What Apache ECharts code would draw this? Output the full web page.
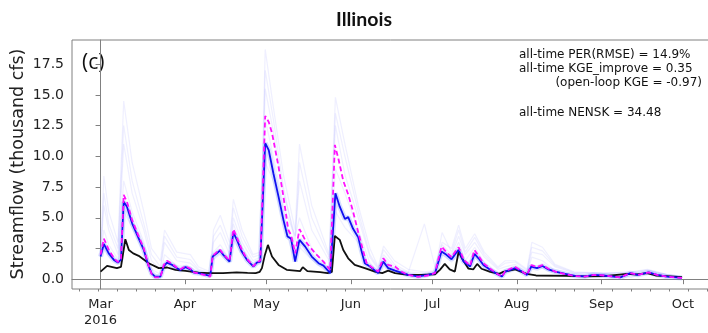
<!DOCTYPE html>
<html>
<head>
<meta charset="utf-8">
<script src="https://cdn.jsdelivr.net/npm/echarts@6/dist/echarts.min.js"></script>
<style>
html,body{margin:0;padding:0;background:#fff;}
#chart{width:708px;height:333px;}
</style>
</head>
<body>
<div id="chart"></div>
<script>
// x values are days since 2016-03-01
const monthDays = [0, 31, 61, 92, 122, 153, 184, 214];
const monthLabels = ['Mar\n2016', 'Apr', 'May', 'Jun', 'Jul', 'Aug', 'Sep', 'Oct'];
const yTicks = [0, 2.5, 5, 7.5, 10, 12.5, 15, 17.5];
const yAxisTitle = 'Streamflow (thousand cfs)';
const chartTitle = 'Illinois';
const panelLabel = '(c)';

const obsDays = [0,2.4,4,6,7.5,9.1,10.4,12,14,17.7,21.4,24.5,27.5,31.2,36,40,45,50,54,57,58.5,59.3,60.3,61.5,63,65.4,68.4,73.3,74.3,76,80.7,83.4,85,86.1,87.9,89.2,91,93.4,97.1,100.8,103.5,105.7,108.2,113,118,122.9,124.7,126.5,128.3,130.2,131.6,132.8,135.2,137,138.4,140,143.2,146.5,148,152.4,156.6,160,171,178,185,193.5,197,200.8,204,208,213.7];
const obsValues = [0.62,1.08,1.0,0.9,1.0,3.25,2.38,2.1,1.9,1.3,0.9,0.95,0.75,0.67,0.54,0.5,0.49,0.55,0.52,0.5,0.6,0.9,1.9,2.79,1.84,1.16,0.76,0.65,0.98,0.65,0.57,0.49,0.6,3.52,3.2,2.38,1.7,1.16,0.9,0.62,0.49,0.7,0.49,0.35,0.35,0.4,0.76,1.24,0.8,0.62,2.25,1.7,0.85,0.8,1.24,0.85,0.6,0.43,0.6,0.8,0.43,0.3,0.27,0.22,0.25,0.43,0.38,0.5,0.3,0.25,0.17];

const anaDays = [0,1.2,3,4.9,6.4,7.5,8.5,9.7,11.6,14,15.9,17.5,18.7,20,22,23.2,24.4,26.3,28,29.3,31.2,33,34.3,36,38,40.3,41.2,42.7,43.9,45.1,47.4,48.8,50.1,51.9,53.8,56.2,57.4,58.7,60.5,61.8,63.5,65.4,67.2,68.7,70,71.5,73.1,75.2,77.6,80.1,81.9,84.4,86.3,87.9,89.8,91,92.8,94.7,95.9,97.1,99,102,103.9,105.7,108.2,113,116.7,120.3,122.9,125.3,127.1,129,130.5,131.6,133.4,135.8,137.4,138.9,140.7,143.2,145.7,147.5,148.7,150.6,152.4,154.2,156.7,158.3,160.4,162.4,164.6,167.1,170.8,174.4,178,181.2,184.9,191,194.7,197.5,201.4,204.5,208.2,213.7];
const anaValues = [1.84,2.87,2.1,1.57,1.35,1.6,6.3,5.9,4.55,3.33,2.38,1.16,0.49,0.21,0.21,1.03,1.35,1.16,0.9,0.75,0.98,0.8,0.54,0.49,0.4,0.27,1.84,2.1,2.33,1.98,1.43,3.8,3.2,2.25,1.57,1.03,1.35,1.43,11.07,10.5,8.62,6.72,4.83,3.47,3.3,1.43,3.2,2.65,1.84,1.3,1.1,0.49,7.0,5.9,4.9,5.05,4.1,3.4,2.3,1.3,1.03,0.49,1.43,0.9,0.7,0.35,0.22,0.35,0.49,2.25,1.98,1.62,2.1,2.38,1.43,1.03,2.06,1.7,1.16,0.76,0.43,0.22,0.62,0.76,0.9,0.7,0.35,1.03,0.9,1.08,0.8,0.62,0.43,0.27,0.22,0.35,0.3,0.15,0.49,0.35,0.55,0.35,0.2,0.1];

const olDays = [0,1.2,3,4.9,6.4,7.5,8.5,9.7,11.6,14,15.9,17.5,18.7,20,22,23.2,24.4,26.3,28,29.3,31.2,33,34.3,36,38,40.3,41.2,42.7,43.9,45.1,47.4,48.8,50.1,51.9,53.8,56.2,57.4,58.7,60.5,61.8,63,65.4,67.2,69,70,71.5,73.1,75.8,78.9,81.9,84.4,86.1,87.4,89.2,91,92.8,94.7,96.5,97.8,99.5,102,103.9,105.7,108.2,110.5,113,116.7,120.3,122.9,125.3,127.1,129,130.5,131.6,133.4,135.8,137.4,138.9,140.7,143.2,145.7,147.5,148.7,150.6,152.4,154.2,156.7,158.3,160.4,162.4,164.6,167.1,170.8,174.4,178,181.2,184.9,191,194.7,197.5,201.4,204.5,208.2,213.7];
const olValues = [2.0,3.3,2.4,1.7,1.4,1.7,6.86,6.3,4.8,3.5,2.5,1.2,0.45,0.15,0.15,1.15,1.5,1.25,0.95,0.8,1.05,0.85,0.55,0.45,0.35,0.2,1.9,2.2,2.4,2.05,1.5,4.07,3.4,2.4,1.65,1.05,1.4,1.5,13.29,12.8,11.9,9.16,6.72,4.0,3.6,2.1,4.07,2.93,2.1,1.43,0.76,10.93,9.8,8.0,6.9,5.5,3.8,2.3,1.3,1.0,0.62,1.7,1.16,1.03,0.62,0.35,0.18,0.3,0.5,2.65,2.2,1.8,2.3,2.6,1.6,1.1,2.38,1.9,1.3,0.85,0.45,0.2,0.65,0.85,1.0,0.75,0.35,1.15,1.0,1.15,0.85,0.62,0.4,0.25,0.2,0.35,0.3,0.15,0.5,0.35,0.55,0.35,0.2,0.1];

const memberDays = [0,1.2,3,6.4,8.5,11.6,15.9,18.7,22,23.5,28,33,36,40.3,41.5,44,47.4,48.8,52,56,58.7,60.5,63.5,67.2,71.5,73.1,77.6,84,86.3,89.8,94.7,99,102,104,108,113,119,122.9,125.5,129,131.6,134,137.5,141,146,148.7,152.4,156.7,158.5,162.4,167,174,185,195,201,208,213.7];
const memberA = [2.2,8.4,5.5,3.0,14.5,9.5,5.5,2.5,1.5,4.0,2.2,2.0,1.0,0.6,4.0,5.2,3.0,6.5,4.0,2.0,2.2,18.7,14.0,8.5,4.0,11.0,6.0,2.0,14.8,11.0,6.0,2.5,1.0,2.7,1.5,0.8,0.6,0.7,3.0,2.5,4.4,2.5,3.7,2.2,1.0,1.5,1.5,0.8,3.0,2.6,1.2,0.6,0.5,0.6,0.8,0.4,0.2];
const memberB = [1.9,6.0,4.0,2.0,11.0,7.0,4.0,1.5,0.8,3.0,1.5,1.3,0.7,0.4,3.0,3.8,2.0,5.0,3.0,1.5,1.8,15.5,12.0,7.0,3.5,8.0,4.0,1.5,12.5,8.5,5.0,1.8,0.8,2.0,1.0,0.5,4.5,1.0,2.8,2.0,3.5,2.0,3.0,1.8,0.8,1.0,1.2,0.6,2.2,2.0,1.0,0.5,0.45,0.5,0.7,0.35,0.15];
const memberC = [1.9,4.0,2.8,1.6,8.0,5.5,3.0,0.8,0.4,2.0,1.1,1.0,0.55,0.3,2.2,2.8,1.6,4.5,2.6,1.2,1.5,13.0,10.0,6.0,3.5,5.0,2.5,0.8,9.0,7.0,4.0,1.3,0.6,1.8,0.8,0.4,0.3,0.5,2.5,1.8,3.0,1.5,2.6,1.4,0.5,0.8,1.0,0.4,1.8,1.5,0.7,0.3,0.35,0.2,0.6,0.3,0.1];
const memberD = [1.6,2.6,1.9,1.2,5.5,4.2,2.2,0.4,0.15,1.0,0.8,0.7,0.45,0.25,1.6,2.0,1.3,3.2,2.0,1.0,1.3,9.5,8.0,4.5,1.5,2.6,1.6,0.45,5.5,4.2,3.0,0.9,0.45,1.2,0.7,0.3,0.2,0.4,2.0,1.4,2.0,1.2,1.8,1.0,0.4,0.5,0.8,0.3,0.9,0.9,0.5,0.25,0.3,0.15,0.5,0.2,0.1];
const memberE = [2.0,7.0,4.5,2.5,12.5,8.0,4.5,2.0,1.0,3.5,1.8,1.6,0.8,0.5,3.5,4.4,2.5,5.8,3.5,1.8,2.0,17.0,13.0,7.5,3.0,9.5,5.0,1.8,13.5,10.0,5.5,2.0,0.9,2.4,1.2,0.6,0.5,0.6,3.8,2.2,4.0,2.2,3.4,2.0,0.9,1.3,1.4,0.7,2.6,2.3,1.1,0.55,0.5,0.55,0.75,0.4,0.2];

const statLines = ['all-time PER(RMSE) = 14.9%', 'all-time KGE_improve = 0.35', '(open-loop KGE = -0.97)', 'all-time NENSK = 34.48'];

function pairs(xs, ys) {
  const n = Math.min(xs.length, ys.length);
  const out = [];
  for (let i = 0; i < n; i++) out.push([xs[i], ys[i]]);
  return out;
}

// weekly minor ticks (Mondays)
const minorTicks = [];
for (let d = -8; d <= 224; d += 7) minorTicks.push(d);

const XMIN = -10.5, XMAX = 224.7, YMIN = -0.8, YMAX = 19.47;
const axisGray = '#808080';
const font = 'DejaVu Sans';

const memberStyle = { color: 'rgba(120,120,255,0.12)', width: 1.2 };
const members = [memberA, memberB, memberC, memberD, memberE].map(m => ({
  type: 'line', data: pairs(memberDays, m), showSymbol: false, symbol: 'none',
  lineStyle: memberStyle, silent: true, z: 1
}));

const chart = echarts.init(document.getElementById('chart'), null, { renderer: 'canvas' });
chart.setOption({
  animation: false,
  backgroundColor: '#fff',
  grid: { left: 72, top: 40, width: 640, height: 249, show: true, borderColor: axisGray, borderWidth: 1, containLabel: false, outerBoundsMode: 'none' },
  xAxis: [
    {
      type: 'value', min: XMIN, max: XMAX,
      axisLine: { show: true, lineStyle: { color: axisGray, width: 1 } },
      splitLine: { show: false },
      axisTick: { show: true, customValues: monthDays, length: 5, lineStyle: { color: axisGray } },
      axisLabel: {
        customValues: monthDays, margin: 8, color: '#222', fontFamily: font, fontSize: 13, lineHeight: 16,
        formatter: v => { const i = monthDays.indexOf(Math.round(v)); return i >= 0 ? monthLabels[i] : ''; }
      }
    },
    {
      type: 'value', min: XMIN, max: XMAX, position: 'bottom', gridIndex: 0,
      axisLine: { show: false }, splitLine: { show: false },
      axisTick: { show: true, customValues: minorTicks, length: 2.5, lineStyle: { color: axisGray } },
      axisLabel: { show: false }
    }
  ],
  yAxis: {
    type: 'value', min: YMIN, max: YMAX,
    axisLine: { show: true, lineStyle: { color: axisGray, width: 1 } },
    splitLine: { show: false },
    axisTick: { show: true, customValues: yTicks, length: 5, lineStyle: { color: axisGray } },
    axisLabel: { customValues: yTicks, margin: 8, color: '#222', fontFamily: font, fontSize: 14, formatter: v => v.toFixed(1) }
  },
  series: members.concat([
    { type: 'line', data: pairs(anaDays, anaValues), symbol: 'none', lineStyle: { color: 'rgba(110,140,255,0.28)', width: 5 }, z: 2, silent: true },
    { type: 'line', data: pairs(obsDays, obsValues), symbol: 'none', lineStyle: { color: '#111', width: 1.8 }, z: 3 },
    { type: 'line', data: pairs(anaDays, anaValues), symbol: 'none', lineStyle: { color: '#1010f0', width: 1.8 }, z: 4 },
    { type: 'line', data: pairs(olDays, olValues), symbol: 'none', lineStyle: { color: '#ff10ff', width: 1.8, type: [5, 3] }, z: 5 }
  ]),
  graphic: [
    { type: 'text', x: 364, y: 20, style: { text: chartTitle, textAlign: 'center', textVerticalAlign: 'middle', font: 'bold 19.5px Lato', fill: '#111' } },
    { type: 'text', x: 18.5, y: 164, rotation: Math.PI / 2, style: { text: yAxisTitle, textAlign: 'center', textVerticalAlign: 'middle', font: '17.5px "DejaVu Sans"', fill: '#222' } },
    { type: 'text', x: 82, y: 63, style: { text: panelLabel, textAlign: 'left', textVerticalAlign: 'middle', font: '21px "Open Sans"', fill: '#111' } },
    { type: 'text', x: 519, y: 55, style: { text: statLines[0], textVerticalAlign: 'middle', font: '12px "DejaVu Sans"', fill: '#111' } },
    { type: 'text', x: 519, y: 69, style: { text: statLines[1], textVerticalAlign: 'middle', font: '12px "DejaVu Sans"', fill: '#111' } },
    { type: 'text', x: 702, y: 83, style: { text: statLines[2], textAlign: 'right', textVerticalAlign: 'middle', font: '12px "DejaVu Sans"', fill: '#111' } },
    { type: 'text', x: 519, y: 113, style: { text: statLines[3], textVerticalAlign: 'middle', font: '12px "DejaVu Sans"', fill: '#111' } }
  ]
});
</script>
</body>
</html>
